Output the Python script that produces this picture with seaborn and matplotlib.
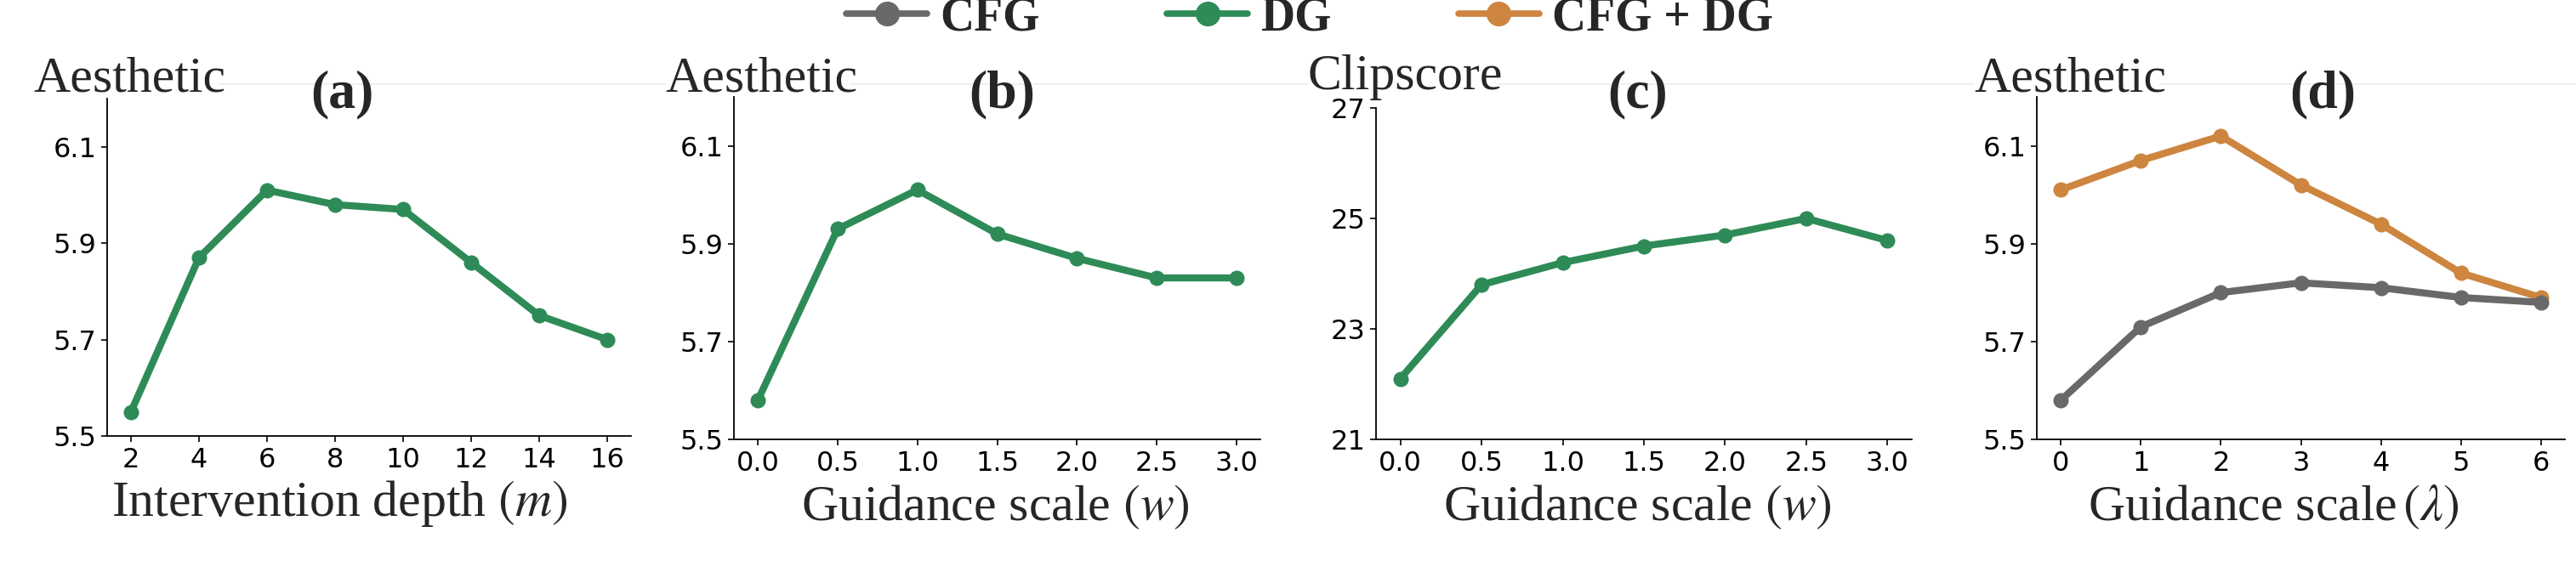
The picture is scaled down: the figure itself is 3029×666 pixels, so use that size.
import numpy as np
import pandas as pd
import seaborn as sns
import matplotlib.pyplot as plt
from matplotlib.lines import Line2D

# panel (a): intervention depth
depth = [2, 4, 6, 8, 10, 12, 14, 16]
aes_depth = [5.55, 5.87, 6.01, 5.98, 5.97, 5.86, 5.75, 5.70]

# panel (b) / (c): DG guidance scale w
w_scale = [0.0, 0.5, 1.0, 1.5, 2.0, 2.5, 3.0]
aes_w = [5.58, 5.93, 6.01, 5.92, 5.87, 5.83, 5.83]
clip_w = [22.1, 23.8, 24.2, 24.5, 24.7, 25.0, 24.6]

# panel (d): guidance scale lambda
lam = [0, 1, 2, 3, 4, 5, 6]
aes_cfg = [5.58, 5.73, 5.80, 5.82, 5.81, 5.79, 5.78]
aes_cfg_dg = [6.01, 6.07, 6.12, 6.02, 5.94, 5.84, 5.79]

methods = ["CFG", "DG", "CFG + DG"]
colors = {"CFG": "#696969", "DG": "#2e8b57", "CFG + DG": "#cd853f"}

sns.set_style("ticks")
plt.rcParams["mathtext.fontset"] = "stix"
plt.rcParams["font.family"] = ["DejaVu Sans"]

SERIF = "Liberation Serif"
LW, MS = 6, 13

W, H = 3029, 666
fig = plt.figure(figsize=(W / 100, H / 100), dpi=100)

# axes boxes in pixels: left, top, right, bottom
boxes = [(126, 116, 742, 513), (863, 114, 1482, 517),
         (1618, 127, 2248, 517), (2395, 114, 3016, 517)]
axes = [fig.add_axes([l / W, 1 - b / H, (r - l) / W, (b - t) / H]) for l, t, r, b in boxes]

# faint rule behind the panel headers (gaps where the metric names sit)
for x0, x1 in [(258, 782), (1000, 1538), (1762, 2321), (2540, W)]:
    fig.add_artist(Line2D([x0 / W, x1 / W], [1 - 99 / H] * 2, color="#ececec", lw=1.2, zorder=0))


def draw(ax, x, y, method):
    df = pd.DataFrame({"x": x, "y": y})
    sns.lineplot(data=df, x="x", y="y", ax=ax, color=colors[method], lw=LW,
                 marker="o", markersize=MS, markeredgewidth=0)


draw(axes[0], depth, aes_depth, "DG")
draw(axes[1], w_scale, aes_w, "DG")
draw(axes[2], w_scale, clip_w, "DG")
draw(axes[3], lam, aes_cfg_dg, "CFG + DG")
draw(axes[3], lam, aes_cfg, "CFG")

# tag, ylabel, xlabel, xticks, title x, ylabel (x, baseline), xlabel (center x, baseline)  [px]
panels = [
    ("(a)", "Aesthetic", r"Intervention depth $(m)$", depth, 402, (39, 107), (399, 607)),
    ("(b)", "Aesthetic", r"Guidance scale $(w)$", w_scale, 1178, (782, 108), (1170, 612)),
    ("(c)", "Clipscore", r"Guidance scale $(w)$", w_scale, 1926, (1538, 105), (1925, 612)),
    ("(d)", "Aesthetic", r"Guidance scale$\,(\lambda)$", lam, 2731, (2321, 108), (2673, 612)),
]

for ax, box, (tag, ylab, xlab, xt, tx, ypos, xpos) in zip(axes, boxes, panels):
    l, t, r, b = box

    def frac(px, py):
        return (px - l) / (r - l), (b - py) / (b - t)

    sns.despine(ax=ax)
    ax.set_xticks(xt)
    if tag == "(c)":
        ax.set_ylim(21, 27)
        ax.set_yticks([21, 23, 25, 27])
    else:
        ax.set_ylim(5.5, 6.2)
        ax.set_yticks([5.5, 5.7, 5.9, 6.1])
    ax.tick_params(labelsize=23, length=5, width=1.2, colors="black", pad=4)
    for s in ("left", "bottom"):
        ax.spines[s].set_linewidth(1.3)
        ax.spines[s].set_color("black")

    ax.set_xlabel(xlab, family=SERIF, fontsize=43, ha="center", va="baseline")
    ax.xaxis.set_label_coords(*frac(*xpos))
    ax.set_ylabel(ylab, family=SERIF, fontsize=43, rotation=0, ha="left", va="baseline")
    ax.yaxis.set_label_coords(*frac(*ypos))
    ax.text(*frac(tx, 126), tag, transform=ax.transAxes, ha="center", va="baseline",
            family=SERIF, fontsize=46, fontweight="bold")

handles = [Line2D([], [], color=colors[m], lw=5.5, marker="o", markersize=21,
                  markeredgewidth=0) for m in methods]
fig.legend(handles, methods, loc="center", bbox_to_anchor=(1540 / W, 1 - 21 / H), ncol=3,
           frameon=False, handlelength=1.7, handletextpad=0.27, columnspacing=2.7,
           borderpad=0, borderaxespad=0,
           prop={"family": SERIF, "weight": "bold", "size": 40})

fig.savefig("out.png", dpi=100)
